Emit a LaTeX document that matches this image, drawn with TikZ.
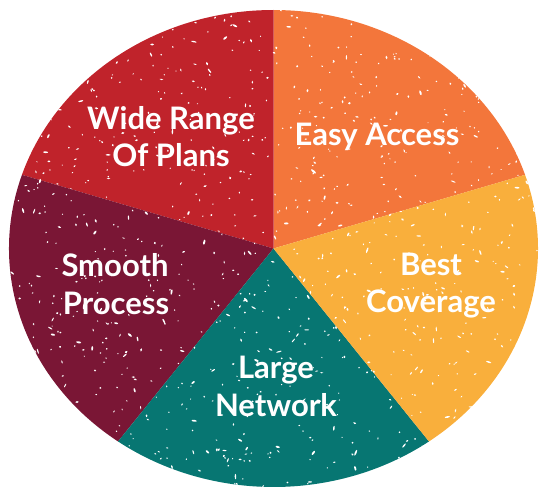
\documentclass[tikz,border=0pt]{standalone}
\usepackage{fontspec}
\setmainfont{Lato}
\definecolor{cRed}{HTML}{C0232B}
\definecolor{cOrange}{HTML}{F3763B}
\definecolor{cYellow}{HTML}{F9AF3C}
\definecolor{cTeal}{HTML}{077672}
\definecolor{cMaroon}{HTML}{7A1635}
\begin{document}
\begin{tikzpicture}[x=1pt,y=-1pt,
  lbl/.style={text=white,font=\fontsize{31}{38}\selectfont\bfseries,align=center,inner sep=0pt},
  speck/.style={fill=white},
  pie/.style={x radius=264.5,y radius=238.5}]
\useasboundingbox (0,0) rectangle (550,500);
\coordinate (c) at (273.5,248.5);
% slices (angles measured with y pointing down)
\fill[cOrange] (c) -- ++(-90:264.5 and 238.5) arc[pie,start angle=-90,end angle=-18] -- cycle;
\fill[cRed] (c) -- ++(-162:264.5 and 238.5) arc[pie,start angle=-162,end angle=-90] -- cycle;
\fill[cMaroon] (c) -- ++(126:264.5 and 238.5) arc[pie,start angle=126,end angle=198] -- cycle;
\fill[cTeal] (c) -- ++(54:264.5 and 238.5) arc[pie,start angle=54,end angle=126] -- cycle;
\fill[cYellow] (c) -- ++(-18:264.5 and 238.5) arc[pie,start angle=-18,end angle=54] -- cycle;
% grunge specks
\begin{scope}
\clip (c) ellipse [pie];
\pgfmathsetseed{4242}
\foreach \i in {1,...,1100}{
  \pgfmathsetmacro{\px}{9+529*rnd}
  \pgfmathsetmacro{\py}{10+477*rnd}
  \pgfmathsetmacro{\ang}{360*rnd}
  \pgfmathsetmacro{\len}{0.6+2.6*rnd*rnd}
  \pgfmathsetmacro{\wid}{0.55+0.5*rnd}
  \fill[speck,rotate around={\ang:(\px,\py)}] (\px,\py) ellipse [x radius=\len,y radius=\wid];
}
\end{scope}
% labels
\node[lbl,anchor=base] (wide) at (171,130) {Wide Range};
\node[lbl,anchor=base] (plans) at (171,167) {Of Plans};
\node[lbl,anchor=base] (easy) at (377,146) {Easy Access};
\node[lbl,anchor=base] (best) at (431,276) {Best};
\node[lbl,anchor=base] (cov) at (431,313) {Coverage};
\node[lbl,anchor=base] (smooth) at (115,277) {Smooth};
\node[lbl,anchor=base] (proc) at (116,315) {Process};
\node[lbl,anchor=base] (large) at (276,379) {Large};
\node[lbl,anchor=base] (net) at (276,417) {Network};
\end{tikzpicture}
\end{document}
